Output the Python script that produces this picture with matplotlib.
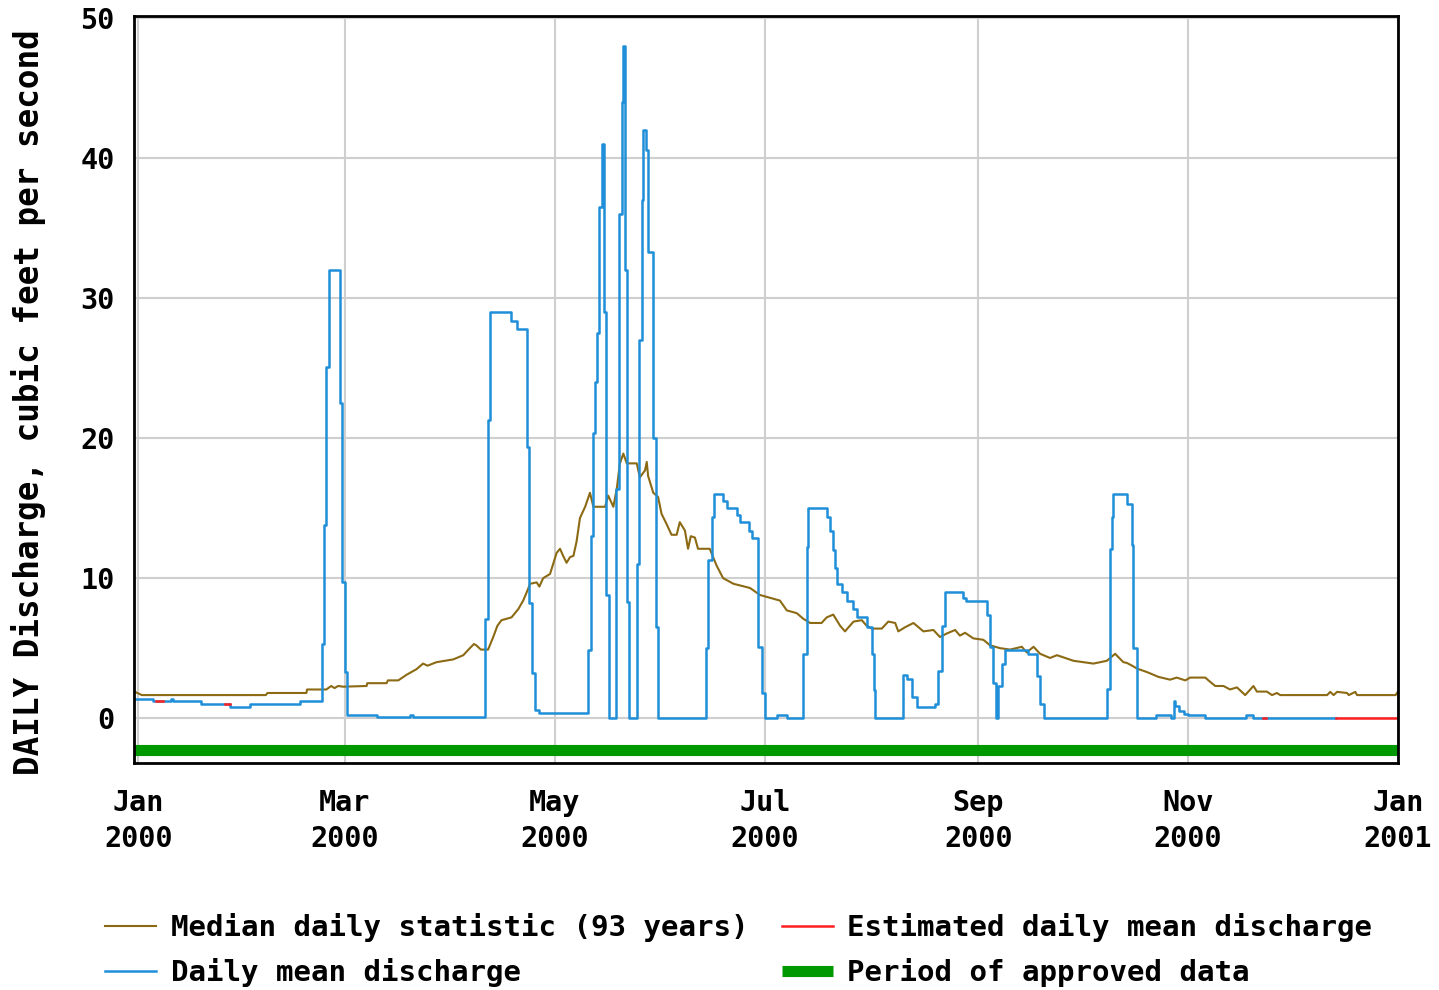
import numpy as np
import matplotlib
matplotlib.use("Agg")
import matplotlib.pyplot as plt

plt.rcParams['font.family'] = ['DejaVu Sans Mono']
plt.rcParams['font.weight'] = 'bold'

# day of year 2000 (0 = Jan 1) where the daily mean changes, and the new value
blue_days = [-1, 4.2, 9.6, 10.1, 18.3, 26.5, 32.4, 46.9, 53.2, 54.0, 54.6, 55.3, 58.5, 59.2,
             60.0, 60.6, 69.2, 78.9, 79.7, 100.7, 101.5, 102.2, 108.4, 109.9, 112.8, 113.5,
             114.4, 115.2, 116.4, 130.7, 131.4, 132.2, 132.8, 133.2, 133.9, 134.6, 135.3,
             136.0, 136.8, 138.9, 139.7, 140.4, 140.9, 141.4, 141.9, 142.6, 144.8, 145.5,
             146.2, 146.7, 147.5, 148.1, 149.4, 150.3, 150.9, 164.9, 165.6, 166.6, 167.2,
             169.9, 170.9, 173.8, 174.8, 177.5, 178.4, 180.1, 181.1, 182.1, 185.5, 188.4,
             193.2, 194.2, 194.7, 200.0, 201.0, 201.9, 202.5, 202.9, 204.5, 206.0, 207.5,
             208.7, 211.6, 213.1, 213.6, 214.0, 222.3, 223.3, 224.7, 226.2, 231.5, 232.4,
             233.4, 234.4, 239.7, 240.5, 246.5, 247.5, 248.4, 249.2, 249.9, 250.9, 251.8,
             258.6, 261.0, 262.0, 263.0, 281.4, 282.2, 282.9, 283.3, 287.2, 288.7, 289.1,
             290.1, 295.7, 300.1, 300.8, 301.3, 302.5, 303.9, 304.9, 309.8, 321.9, 323.8, 348.0]
blue_vals = [1.4, 1.2, 1.4, 1.2, 1.0, 0.8, 1.0, 1.2, 5.3, 13.8, 25.1, 32.0, 22.5, 9.7,
             3.3, 0.25, 0.05, 0.2, 0.05, 7.1, 21.3, 29.0, 28.4, 27.8, 19.4, 8.2,
             3.2, 0.55, 0.4, 4.9, 13.0, 20.4, 24.0, 27.5, 36.5, 41.0, 29.0,
             8.8, 0.0, 16.4, 36.0, 44.0, 48.0, 32.0, 8.3, 0.0, 11.0, 27.0,
             37.0, 42.0, 40.6, 33.3, 20.0, 6.5, 0.0, 5.0, 11.3, 14.4, 16.0,
             15.5, 15.0, 14.5, 14.0, 13.4, 12.9, 5.1, 1.8, 0.0, 0.2, 0.0,
             4.6, 12.2, 15.0, 14.4, 13.4, 12.0, 10.7, 9.6, 9.0, 8.4, 7.8,
             7.2, 6.5, 4.6, 2.0, 0.0, 3.1, 2.8, 1.5, 0.8, 1.0, 3.4,
             6.6, 9.0, 8.6, 8.4, 7.4, 5.1, 2.5, 0.0, 2.3, 3.9, 4.9,
             4.6, 3.0, 1.0, 0.0, 2.1, 12.1, 14.4, 16.0, 15.3, 12.4, 5.0,
             0.0, 0.2, 0.0, 1.2, 0.9, 0.5, 0.3, 0.2, 0.0, 0.2, 0.0, 0.0]

# estimated values (nan separates pieces)
est_days = [5.2, 7.2, np.nan, 25.1, 26.5, np.nan, 326.7, 327.7, np.nan, 348.0, 366.0]
est_vals = [1.2, 1.2, np.nan, 1.0, 1.0, np.nan, 0.0, 0.0, np.nan, 0.0, 0.0]

med_days = [-1, 1, 37, 37.5, 48.8, 49, 54.6, 56, 57, 58, 59.5, 66.3, 66.5, 72.1, 72.5, 75.5,
            77.9, 80.8, 82.7, 84, 86.6, 91.5, 94.4, 96.3, 97.5, 98.2, 99.5, 101.6, 103.1,
            104.3, 105.5, 108.4, 110.4, 111.8, 113.0, 113.8, 115.7, 116.5, 117.6, 119.6,
            120.5, 121.5, 122.5, 123.4, 124.4, 125.4, 126.4, 127.3, 128.3, 129.8, 131.2,
            132.2, 135.6, 136.5, 138.0, 139.0, 139.9, 140.9, 141.9, 144.8, 145.7, 147.2,
            147.7, 148.1, 149.6, 151.0, 152.0, 153.4, 154.9, 156.4, 157.3, 158.8, 159.7,
            160.5, 161.7, 162.6, 166.0, 168.0, 169.9, 172.9, 177.7, 180.6, 183.5, 186.4,
            188.4, 191.3, 193.2, 195.2, 198.5, 200.0, 201.9, 203.9, 205.3, 207.8, 210.2,
            211.6, 213.1, 216.0, 217.9, 219.9, 220.8, 222.8, 225.2, 228.1, 231.0, 232.9,
            234.9, 237.3, 238.7, 240.2, 242.6, 245.5, 247.5, 250.4, 253.3, 256.7, 258.1,
            260.1, 262.0, 264.9, 266.9, 271.7, 274.6, 277.5, 281.4, 283.8, 286.2, 287.2,
            289.1, 290.1, 293.0, 296.4, 299.8, 301.7, 304.2, 305.6, 310.0, 311.4, 312.9,
            315.3, 317.2, 319.2, 321.6, 324.0, 325.0, 327.9, 329.4, 330.8, 331.8, 345.4,
            346.3, 347.3, 348.3, 351.2, 351.7, 353.6, 354.1, 365.3, 366]
med_vals = [1.88, 1.65, 1.65, 1.8, 1.8, 2.05, 2.05, 2.3, 2.15, 2.3, 2.25, 2.3, 2.5, 2.5, 2.7, 2.7,
            3.1, 3.5, 3.9, 3.75, 4.0, 4.2, 4.5, 5.0, 5.3, 5.2, 4.9, 4.9, 5.8,
            6.6, 7.0, 7.2, 7.8, 8.4, 9.1, 9.6, 9.7, 9.4, 10.0, 10.3,
            11.0, 11.8, 12.1, 11.6, 11.1, 11.5, 11.6, 12.6, 14.3, 15.1, 16.1,
            15.1, 15.1, 15.9, 15.1, 16.4, 18.2, 18.9, 18.2, 18.2, 17.2, 17.7,
            18.3, 17.3, 16.1, 15.8, 14.6, 13.9, 13.1, 13.1, 14.0, 13.4, 12.1,
            13.0, 12.9, 12.1, 12.1, 10.9, 10.0, 9.6, 9.3, 8.8, 8.6, 8.4,
            7.7, 7.5, 7.1, 6.8, 6.8, 7.2, 7.4, 6.6, 6.2, 6.9, 7.0,
            6.6, 6.4, 6.4, 6.9, 6.8, 6.2, 6.5, 6.8, 6.2, 6.3, 5.8,
            6.05, 6.3, 5.9, 6.1, 5.7, 5.6, 5.2, 5.0, 4.9, 5.1, 4.7,
            5.1, 4.6, 4.3, 4.5, 4.1, 4.0, 3.9, 4.1, 4.6, 4.0, 3.95,
            3.7, 3.55, 3.3, 2.95, 2.75, 2.9, 2.7, 2.9, 2.9, 2.6, 2.3,
            2.3, 2.05, 2.2, 1.65, 2.3, 1.9, 1.9, 1.65, 1.8, 1.65, 1.65,
            1.88, 1.65, 1.88, 1.8, 1.65, 1.88, 1.65, 1.65, 1.9]

approved = [-1.3, 366]
tick_days = [0, 60, 121, 182, 244, 305, 366]
tick_labels = ['Jan\n2000', 'Mar\n2000', 'May\n2000', 'Jul\n2000', 'Sep\n2000', 'Nov\n2000', 'Jan\n2001']

c_med = '#8c6a14'
c_blue = '#1e8fd8'
c_red = '#ff2020'
c_green = '#009a00'

fig = plt.figure(figsize=(14.39, 9.9), dpi=100)
ax = fig.add_axes([0.0931, 0.2293, 0.8784, 0.7545])

ax.plot(med_days, med_vals, color=c_med, lw=1.5, label='Median daily statistic (93 years)')
ax.plot(blue_days, blue_vals, color=c_blue, lw=1.8, drawstyle='steps-post', label='Daily mean discharge')
ax.plot(est_days, est_vals, color=c_red, lw=1.8, drawstyle='steps-post', label='Estimated daily mean discharge')
ax.plot(approved, [-2.3, -2.3], color=c_green, lw=8, solid_capstyle='butt', label='Period of approved data')

ax.set_xlim(-1.3, 366)
ax.set_ylim(-3.2, 50.15)
ax.set_xticks(tick_days)
ax.set_xticklabels(tick_labels, fontsize=20.5, fontweight='bold', linespacing=1.35)
ax.set_yticks([0, 10, 20, 30, 40, 50])
ax.tick_params(axis='y', length=0, pad=14, labelsize=20.5)
ax.tick_params(axis='x', length=0, pad=19)
ax.grid(True, color='#cfcfcf', lw=1.5)
ax.set_axisbelow(True)
for s in ax.spines.values():
    s.set_linewidth(2)
    s.set_color('black')

fig.text(0.02, 0.594, 'DAILY Discharge, cubic feet per second', rotation=90,
         ha='center', va='center', fontsize=23.5, fontweight='bold')

handles, labels = ax.get_legend_handles_labels()
fig.legend(handles, labels, ncol=2,
           loc='upper left', bbox_to_anchor=(0.073, 0.078), frameon=False,
           fontsize=21, borderpad=0, borderaxespad=0, handlelength=1.75,
           handletextpad=0.5, columnspacing=1.15, labelspacing=0.55)

fig.savefig('out.png', dpi=100)
